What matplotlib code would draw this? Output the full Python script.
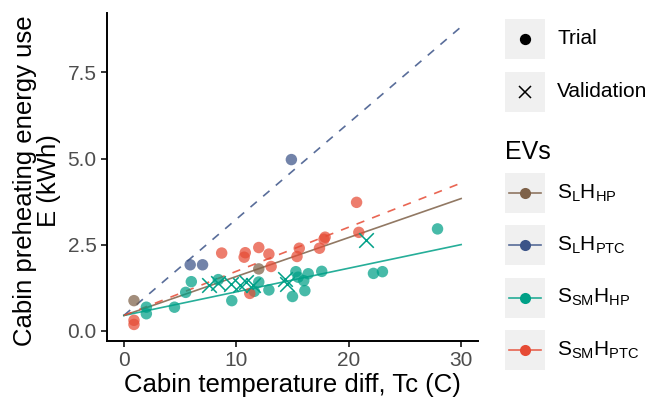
import matplotlib
matplotlib.use("Agg")
import matplotlib.pyplot as plt
import numpy as np
from matplotlib.lines import Line2D
from matplotlib.patches import Rectangle

plt.rcParams["font.family"] = ["Liberation Sans", "DejaVu Sans"]
plt.rcParams["mathtext.fontset"] = "custom"
plt.rcParams["mathtext.rm"] = "Liberation Sans"
plt.rcParams["mathtext.it"] = "Liberation Sans"

# EV groups, in legend order
ev_keys = ["SL_HP", "SL_PTC", "SSM_HP", "SSM_PTC"]
ev_labels = [r"S$_{\mathrm{L}}$H$_{\mathrm{HP}}$", r"S$_{\mathrm{L}}$H$_{\mathrm{PTC}}$",
             r"S$_{\mathrm{SM}}$H$_{\mathrm{HP}}$", r"S$_{\mathrm{SM}}$H$_{\mathrm{PTC}}$"]
ev_colors = ["#7E6148", "#3C5488", "#00A087", "#E64B35"]
ev_dashed = [False, True, False, True]

# fitted lines (shared intercept, one slope per EV)
fit_intercept = 0.45
fit_slopes = [0.113, 0.279, 0.0685, 0.128]
fit_x = [0, 30]

# trial points
trial_x = {
    "SL_HP": [0.9, 12.0],
    "SL_PTC": [5.9, 7.0, 14.9],
    "SSM_HP": [2.0, 2.0, 4.5, 5.5, 6.0, 8.4, 9.6, 11.6, 12.0, 12.9, 15.0, 15.3,
               15.5, 16.0, 16.1, 16.4, 17.6, 22.2, 23.0, 27.9],
    "SSM_PTC": [0.9, 0.9, 8.7, 10.7, 10.8, 11.2, 12.0, 12.9, 13.1, 15.4, 15.6,
                17.4, 17.8, 17.9, 20.7, 20.9],
}
trial_y = {
    "SL_HP": [0.88, 1.80],
    "SL_PTC": [1.92, 1.92, 4.97],
    "SSM_HP": [0.69, 0.50, 0.69, 1.12, 1.43, 1.49, 0.88, 1.15, 1.42, 1.19, 1.00, 1.72,
               1.56, 1.46, 1.17, 1.66, 1.73, 1.67, 1.72, 2.96],
    "SSM_PTC": [0.31, 0.19, 2.26, 2.14, 2.27, 1.09, 2.42, 2.23, 1.87, 2.16, 2.40,
                2.40, 2.66, 2.72, 3.73, 2.86],
}

# validation points (all SSM_HP)
valid_x = [7.6, 8.35, 9.5, 10.3, 10.9, 11.5, 14.3, 14.5, 21.5]
valid_y = [1.34, 1.38, 1.37, 1.33, 1.42, 1.34, 1.52, 1.36, 2.64]

fig = plt.figure(figsize=(6.48, 4.01), dpi=100)
ax = fig.add_axes([107 / 648, 60 / 401, 371 / 648, 328 / 401])

for key, color, slope, dashed in zip(ev_keys, ev_colors, fit_slopes, ev_dashed):
    xs = np.array(fit_x, dtype=float)
    ax.plot(xs, fit_intercept + slope * xs, color=color, lw=1.2, alpha=0.85,
            dashes=(5, 5) if dashed else (None, None), zorder=2)

for key, color in zip(ev_keys, ev_colors):
    ax.scatter(trial_x[key], trial_y[key], s=68, color=color, alpha=0.72,
               edgecolors="none", zorder=3)

ax.scatter(valid_x, valid_y, s=110, marker="x", color=ev_colors[2], linewidths=1.1,
           zorder=4)

ax.set_xlim(-1.5, 31.5)
ax.set_ylim(-0.29, 9.22)
ax.set_xticks([0, 10, 20, 30])
ax.set_yticks([0, 2.5, 5.0, 7.5])
ax.set_yticklabels(["0.0", "2.5", "5.0", "7.5"])
for side in ("top", "right"):
    ax.spines[side].set_visible(False)
for side in ("left", "bottom"):
    ax.spines[side].set_linewidth(1.4)
ax.tick_params(direction="out", length=4.5, width=1.1, labelsize=15, labelcolor="#4d4d4d",
               pad=3)
ax.set_xlabel("Cabin temperature diff, Tc (C)", fontsize=18.5, labelpad=2)
ax.set_ylabel("Cabin preheating energy use\nE (kWh)", fontsize=18.5, linespacing=1.0)
ax.yaxis.set_label_coords(-0.125, 0.49)

# legends drawn by hand in pixel coordinates
def key_box(y_top):
    fig.patches.append(Rectangle((505 / 648, 1 - (y_top + 40) / 401), 40 / 648, 40 / 401,
                                 transform=fig.transFigure, facecolor="#f0f0f0",
                                 edgecolor="none"))

shape_labels = ["Trial", "Validation"]
shape_markers = ["o", "x"]
for i, (lab, mk) in enumerate(zip(shape_labels, shape_markers)):
    top = 19 + i * 52.5
    key_box(top)
    cy = 1 - (top + 20) / 401
    fig.add_artist(Line2D([525 / 648], [cy], marker=mk, color="black", markersize=7 if mk == "o" else 8,
                          markeredgewidth=1.1, linestyle="none", transform=fig.transFigure))
    fig.text(557 / 648, cy, lab, fontsize=15, va="center", ha="left")

fig.text(505 / 648, 1 - 152 / 401, "EVs", fontsize=18, va="center", ha="left")
for i, (lab, color) in enumerate(zip(ev_labels, ev_colors)):
    top = 173 + i * 52.3
    key_box(top)
    cy = 1 - (top + 20) / 401
    fig.add_artist(Line2D([509 / 648, 541 / 648], [cy, cy], color=color, lw=1.2, alpha=0.85,
                          transform=fig.transFigure))
    fig.add_artist(Line2D([525 / 648], [cy], marker="o", color=color, markersize=8,
                          markeredgewidth=0, linestyle="none", transform=fig.transFigure))
    fig.text(557 / 648, cy, lab, fontsize=15, va="center", ha="left")

fig.savefig("out.png", dpi=100)
